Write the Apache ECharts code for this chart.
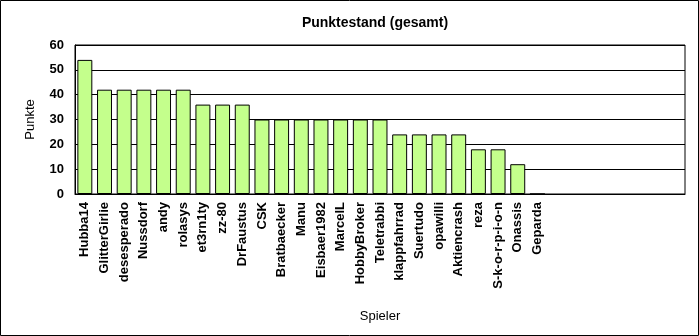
<!DOCTYPE html>
<html>
<head>
<meta charset="utf-8">
<script src="https://cdn.jsdelivr.net/npm/echarts@6/dist/echarts.min.js"></script>
<style>
  html, body { margin: 0; padding: 0; background: #fff; }
  #chart { width: 699px; height: 336px; }
</style>
</head>
<body>
<div id="chart"></div>
<script>
const players = ['Hubba14', 'GlitterGirlie', 'desesperado', 'Nussdorf', 'andy', 'rolasys',
  'et3rn1ty', 'zz-80', 'DrFaustus', 'CSK', 'Bratbaecker', 'Manu', 'Eisbaer1982', 'MarcelL',
  'HobbyBroker', 'Teletrabbi', 'klappfahrrad', 'Suertudo', 'opawilli', 'Aktiencrash', 'reza',
  'S-k-o-r-p-i-o-n', 'Onassis', 'Geparda'];
const points = [54, 42, 42, 42, 42, 42, 36, 36, 36, 30, 30, 30, 30, 30, 30, 30, 24, 24, 24, 24, 18, 18, 12, 0];
// empty slots at the right end of the category axis
const emptySlots = 7;
const yTicks = [0, 10, 20, 30, 40, 50, 60];

const categories = players.concat(new Array(emptySlots).fill(''));
const font = "'Liberation Sans', Arial, sans-serif";

const chart = echarts.init(document.getElementById('chart'));

const option = {
  animation: false,
  backgroundColor: '#fff',
  title: {
    text: 'Punktestand (gesamt)',
    left: 370,
    top: 11,
    textAlign: 'center',
    textStyle: { fontFamily: font, fontSize: 14, fontWeight: 'bold', color: '#000' }
  },
  graphic: [{
    type: 'rect',
    shape: { x: 0.5, y: 0.5, width: 698, height: 335 },
    style: { fill: 'none', stroke: '#000', lineWidth: 1 },
    silent: true
  }],
  grid: {
    left: 75,
    right: 14,
    top: 45,
    bottom: 142,
    show: true,
    borderColor: '#000',
    borderWidth: 1,
    backgroundColor: '#fff'
  },
  xAxis: {
    type: 'category',
    data: categories,
    name: 'Spieler',
    nameLocation: 'middle',
    nameGap: 116,
    nameTextStyle: { fontFamily: font, fontSize: 13, color: '#000' },
    axisLine: { lineStyle: { color: '#000', width: 1 } },
    axisTick: { show: false },
    axisLabel: {
      interval: 0,
      rotate: 90,
      margin: 8,
      color: '#000',
      fontFamily: font,
      fontSize: 13,
      fontWeight: 'bold'
    }
  },
  yAxis: {
    type: 'value',
    min: yTicks[0],
    max: yTicks[yTicks.length - 1],
    interval: 10,
    name: 'Punkte',
    nameLocation: 'middle',
    nameGap: 38,
    nameRotate: 90,
    nameTextStyle: { fontFamily: font, fontSize: 13, color: '#000' },
    axisLine: { show: true, lineStyle: { color: '#000', width: 1 } },
    axisTick: { show: false },
    axisLabel: {
      margin: 11,
      color: '#000',
      fontFamily: font,
      fontSize: 13,
      fontWeight: 'bold'
    },
    splitLine: { lineStyle: { color: '#000', width: 1 } }
  },
  series: [{
    type: 'bar',
    data: points,
    barCategoryGap: '24%',
    itemStyle: {
      color: '#c4ff8c',
      borderColor: '#000',
      borderWidth: 1
    }
  }]
};

chart.setOption(option);
</script>
</body>
</html>
